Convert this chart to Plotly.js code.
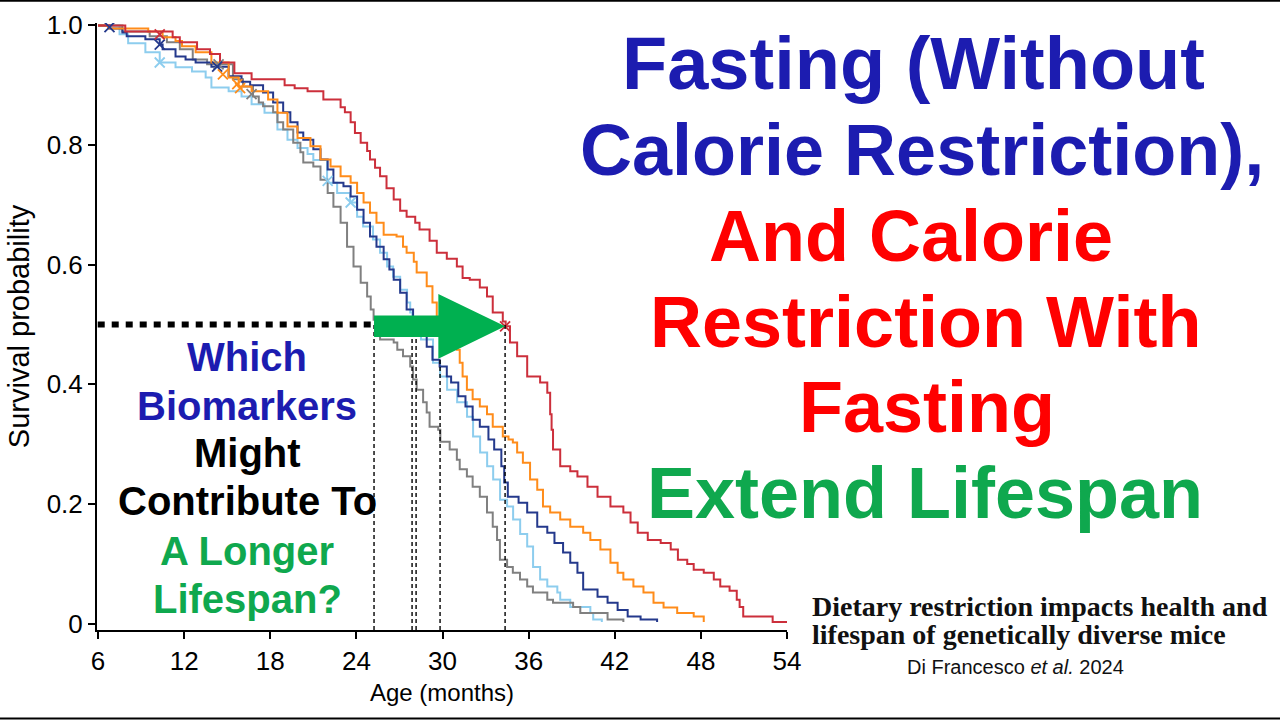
<!DOCTYPE html>
<html><head><meta charset="utf-8">
<script src="https://cdn.plot.ly/plotly-3.0.1.min.js"></script>
<style>html,body{margin:0;padding:0;background:#fff;}#chart{width:1280px;height:720px;}</style>
</head><body><div id="chart"></div>
<script>
// ---------- DATA (Kaplan-Meier survival) ----------
// AL (gray)
const alAge  = [6,7.7,9.6,10.8,11.7,12.6,13.6,15.4,16.1,16.8,17.2,17.5,18.2,18.5,18.9,19.6,20.1,20.3,21.0,21.5,22.0,22.4,22.9,23.35,23.8,24.3,24.75,25.0,25.2,25.65,26.6,26.85,27.25,27.75,27.95,28.2,28.65,28.9,29.1,29.7,29.85,30.5,31.0,31.2,31.7,32.1,32.6,33.1,33.5,33.8,34.0,34.5,34.9,35.4,35.9,36.3,37.3,37.7,39.1,39.6,41.5,42.6];
const alSurv = [1,0.99,0.982,0.972,0.96,0.943,0.935,0.91,0.898,0.881,0.871,0.865,0.855,0.838,0.826,0.804,0.788,0.771,0.764,0.742,0.72,0.697,0.67,0.63,0.597,0.57,0.547,0.525,0.508,0.475,0.47,0.458,0.447,0.43,0.408,0.391,0.37,0.353,0.329,0.324,0.304,0.291,0.274,0.258,0.246,0.229,0.212,0.186,0.162,0.14,0.107,0.095,0.085,0.074,0.062,0.052,0.04,0.035,0.028,0.018,0.007,0.003];
// 1-day fasting (light blue)
const f1Age  = [6,7.5,8.1,9.3,10.3,11.4,12.55,13.5,13.9,15.1,16.0,16.7,17.6,18.5,19.2,19.9,20.6,21.0,21.96,22.66,23.56,24.05,24.47,25.16,25.65,26.14,26.56,27.05,27.53,27.75,27.9,28.5,29.34,29.83,30.32,31.02,31.71,32.13,32.62,33.11,33.53,34.01,34.5,34.92,35.41,35.9,36.31,36.8,37.3,38.0,38.2,38.9,40.3,40.5,41.1];
const f1Surv = [1,0.985,0.97,0.955,0.938,0.93,0.923,0.913,0.896,0.89,0.881,0.868,0.854,0.826,0.809,0.795,0.785,0.775,0.737,0.72,0.704,0.68,0.664,0.642,0.62,0.597,0.58,0.558,0.537,0.52,0.492,0.475,0.436,0.413,0.391,0.37,0.346,0.313,0.286,0.263,0.241,0.207,0.196,0.174,0.15,0.129,0.095,0.074,0.062,0.052,0.04,0.028,0.018,0.007,0.003];
// 2-day fasting (navy)
const f2Age  = [6,6.8,7.7,8.0,9.3,10.3,10.5,11.4,12.1,12.8,13.9,15.1,16.0,16.6,17.5,18.2,18.9,19.4,19.9,20.3,21.0,21.5,22.0,22.4,23.1,23.6,24.05,24.5,24.95,25.4,25.9,26.3,26.6,27.05,27.5,27.95,28.2,28.9,29.3,29.8,30.3,30.6,31.1,31.6,32.1,32.6,33.2,33.6,34.1,34.3,34.55,35.3,35.9,36.6,37.3,37.8,38.4,38.9,39.4,39.8,40.8,41.5,42.2,42.9,43.8,44.95];
const f2Surv = [1,0.995,0.988,0.982,0.977,0.968,0.96,0.948,0.943,0.938,0.931,0.915,0.906,0.9,0.888,0.871,0.855,0.838,0.821,0.809,0.793,0.776,0.759,0.737,0.731,0.714,0.692,0.67,0.647,0.63,0.609,0.592,0.575,0.553,0.525,0.508,0.487,0.463,0.441,0.43,0.413,0.403,0.38,0.363,0.341,0.329,0.308,0.291,0.263,0.236,0.212,0.202,0.186,0.162,0.152,0.135,0.119,0.102,0.085,0.057,0.045,0.035,0.023,0.012,0.007,0.003];
// 20% CR (orange)
const cr20Age  = [6,6.7,9.5,10.5,11.4,11.85,12.8,13.9,15.1,15.8,16.7,17.85,18.5,19.2,19.9,20.8,21.5,22.2,22.9,23.6,24.05,24.5,24.95,25.4,25.9,26.8,27.25,27.5,28.0,28.2,28.9,29.3,29.6,29.8,30.3,31.0,31.2,31.4,31.7,32.1,32.6,33.1,33.5,34.2,34.6,34.9,35.2,35.6,36.1,36.6,37.0,37.5,38.2,38.9,39.8,40.3,41.0,41.7,42.2,42.6,43.3,44.0,44.7,45.4,46.35,47.5,48.2];
const cr20Surv = [1,0.995,0.99,0.98,0.974,0.965,0.955,0.938,0.913,0.898,0.89,0.876,0.854,0.831,0.812,0.798,0.776,0.764,0.748,0.737,0.72,0.704,0.687,0.67,0.65,0.647,0.63,0.62,0.605,0.587,0.564,0.537,0.513,0.492,0.475,0.458,0.436,0.413,0.391,0.375,0.363,0.35,0.329,0.313,0.308,0.303,0.286,0.269,0.241,0.224,0.196,0.186,0.174,0.162,0.152,0.14,0.124,0.102,0.085,0.074,0.062,0.052,0.035,0.027,0.018,0.012,0.003];
// 40% CR (red)
const cr40Age  = [6,7.9,11.2,11.7,12.9,13.8,14.5,15.5,16.7,19.0,19.7,20.6,21.7,22.9,23.2,23.6,23.9,24.3,24.75,24.95,25.3,25.65,26.1,26.6,27.05,27.5,28.1,28.4,29.1,29.6,30.3,31.0,31.4,31.9,32.6,33.1,33.5,34.2,34.4,34.7,35.2,35.9,36.8,37.3,37.5,37.6,37.7,38.2,38.9,39.4,40.1,40.8,41.7,42.6,43.1,43.6,44.3,45.2,45.9,46.4,47.05,47.5,48.2,48.9,49.35,50.0,50.5,50.7,50.95,53.0,54.0];
const cr40Surv = [1,0.99,0.98,0.972,0.96,0.952,0.938,0.92,0.91,0.9,0.895,0.89,0.876,0.863,0.855,0.838,0.82,0.804,0.79,0.776,0.762,0.748,0.728,0.709,0.69,0.68,0.67,0.659,0.64,0.62,0.61,0.597,0.578,0.575,0.562,0.547,0.52,0.505,0.497,0.47,0.447,0.413,0.403,0.386,0.35,0.324,0.291,0.263,0.255,0.246,0.229,0.212,0.196,0.186,0.169,0.152,0.14,0.135,0.124,0.107,0.1,0.09,0.085,0.074,0.062,0.055,0.04,0.028,0.012,0.003,0.003];

// censored marks
const alCensAge = [14.4,16.7],           alCensSurv = [0.935,0.885];
const f1CensAge = [10.3,22.0,23.6],      f1CensSurv = [0.938,0.74,0.704];
const f2CensAge = [6.8,10.3,14.3],       f2CensSurv = [0.997,0.968,0.931];
const cr20CensAge = [14.7,15.7,15.9],    cr20CensSurv = [0.918,0.902,0.895];
const cr40CensAge = [10.3,34.36],        cr40CensSurv = [0.985,0.497];

// medians (months) : AL, 1D, 2D, 20%, 40%
const medians = [25.23,27.88,28.16,29.83,34.36];
const medianLevel = 0.5;

const xTickVals = [6,12,18,24,30,36,42,48,54];
const yTickVals = [0,0.2,0.4,0.6,0.8,1.0];
const yTickText = ['0','0.2','0.4','0.6','0.8','1.0'];

const titleLines = ['Fasting (Without','Calorie Restriction),','And Calorie','Restriction With','Fasting','Extend Lifespan'];
const questionLines = ['Which','Biomarkers','Might','Contribute To','A Longer','Lifespan?'];
const citeLines = ['Dietary restriction impacts health and','lifespan of genetically diverse mice'];
const citeAuthor = 'Di Francesco <i>et al.</i> 2024';

// ---------- STYLE ----------
const C = {red:'#cc2f3b', orange:'#ff8c1a', navy:'#24398c', sky:'#8dcdee', gray:'#808080'};
const BLUE = '#1c1cb0', RED = '#ff0000', GREEN = '#0fa84e', ARROW = '#00b050';
const SANS = 'Liberation Sans, Arial, sans-serif';
const SERIF = 'Liberation Serif, Times New Roman, serif';
const M = {l:97, r:493, t:23, b:90};
const W = 1280, H = 720;
const PW = W - M.l - M.r, PH = H - M.t - M.b;
const xRange = [5.93, 54.0], yRange = [-0.0105, 1.004];
const toPX = x => (x - M.l) / PW;
const toPY = y => (M.t + PH - y) / PH;

function curve(x, y, color, name){
  return {x:x, y:y, type:'scatter', mode:'lines', line:{shape:'hv', color:color, width:2}, name:name, hoverinfo:'skip'};
}
function cens(x, y, color){
  return {x:x, y:y, type:'scatter', mode:'markers', marker:{symbol:'x-thin', size:10, line:{color:color, width:1.8}}, hoverinfo:'skip'};
}

const traces = [
  curve(f1Age, f1Surv, C.sky, '1D'),
  curve(alAge, alSurv, C.gray, 'AL'),
  curve(f2Age, f2Surv, C.navy, '2D'),
  curve(cr20Age, cr20Surv, C.orange, '20%'),
  curve(cr40Age, cr40Surv, C.red, '40%'),
  cens(f1CensAge, f1CensSurv, C.sky),
  cens(alCensAge, alCensSurv, C.gray),
  cens(f2CensAge, f2CensSurv, C.navy),
  cens(cr20CensAge, cr20CensSurv, C.orange),
  cens(cr40CensAge, cr40CensSurv, C.red)
];

const shapes = [];
medians.forEach(m => shapes.push({type:'line', xref:'x', yref:'y', x0:m, x1:m, y0:yRange[0], y1:medianLevel,
  line:{color:'#000', width:1.4, dash:'4px,3px'}}));
shapes.push({type:'line', xref:'x', yref:'y', x0:xRange[0]+0.05, x1:medians[0], y0:medianLevel, y1:medianLevel,
  line:{color:'#000', width:6, dash:'7px,7px'}});
// green arrow from shortest to longest median
(function(){
  const x0 = medians[0], x1 = medians[medians.length-1], yc = 0.497;
  const hs = 0.018, hh = 0.054, headLen = 4.65, xh = x1 - headLen;
  shapes.push({type:'path', xref:'x', yref:'y', fillcolor:ARROW, line:{width:0},
    path:`M${x0},${yc+hs} L${xh},${yc+hs} L${xh},${yc+hh} L${x1},${yc} L${xh},${yc-hh} L${xh},${yc-hs} L${x0},${yc-hs} Z`});
})();
// black frame lines top & bottom of picture
shapes.push({type:'line', xref:'paper', yref:'paper', x0:toPX(0), x1:toPX(W), y0:toPY(0.8), y1:toPY(0.8), line:{color:'#000', width:2}});
shapes.push({type:'line', xref:'paper', yref:'paper', x0:toPX(0), x1:toPX(W), y0:toPY(718.5), y1:toPY(718.5), line:{color:'#000', width:2}});

const annotations = [];
function addText(text, cx, baseline, size, color, family, bold, anchor){
  annotations.push({text: bold ? '<b>'+text+'</b>' : text, xref:'paper', yref:'paper',
    x: toPX(cx), y: toPY(baseline - 0.35*size), xanchor: anchor || 'center', yanchor:'middle',
    showarrow:false, font:{size:size, color:color, family:family}});
}
const titleColors = [BLUE,BLUE,RED,RED,RED,GREEN];
const titleCx = [913,922,911,925,927,925];
const titleBase = [89,175,261,347,432,518];
const titleSize = [74,72,72,72,72,72];
titleLines.forEach((t,i)=>addText(t, titleCx[i], titleBase[i], titleSize[i], titleColors[i], SANS, true));
const qColors = [BLUE,BLUE,'#000','#000',GREEN,GREEN];
const qBase = [371,420,467,515,565,613];
questionLines.forEach((t,i)=>addText(t, 247, qBase[i], 40, qColors[i], SANS, true));
addText(citeLines[0], 810, 616, 28, '#111', SERIF, true, 'left');
addText(citeLines[1], 810, 644, 28, '#111', SERIF, true, 'left');
addText(citeAuthor, 1015, 674, 20, '#111', SANS, false);

const layout = {
  width:W, height:H, margin:M, showlegend:false,
  paper_bgcolor:'#fff', plot_bgcolor:'#fff',
  xaxis:{range:xRange, tickvals:xTickVals, ticks:'outside', ticklen:7, tickwidth:2, tickcolor:'#000',
    showline:true, linecolor:'#000', linewidth:2, showgrid:false, zeroline:false,
    tickfont:{family:SANS, size:26, color:'#000'},
    title:{text:'Age (months)', font:{family:SANS, size:24, color:'#000'}, standoff:9}},
  yaxis:{range:yRange, tickvals:yTickVals, ticktext:yTickText, ticks:'outside', ticklen:7, tickwidth:2, tickcolor:'#000',
    showline:true, linecolor:'#000', linewidth:2, showgrid:false, zeroline:false,
    tickfont:{family:SANS, size:26, color:'#000'},
    title:{text:'Survival probability', font:{family:SANS, size:29, color:'#000'}, standoff:8}},
  shapes:shapes, annotations:annotations
};
Plotly.newPlot('chart', traces, layout, {displayModeBar:false, staticPlot:true});
</script></body></html>
